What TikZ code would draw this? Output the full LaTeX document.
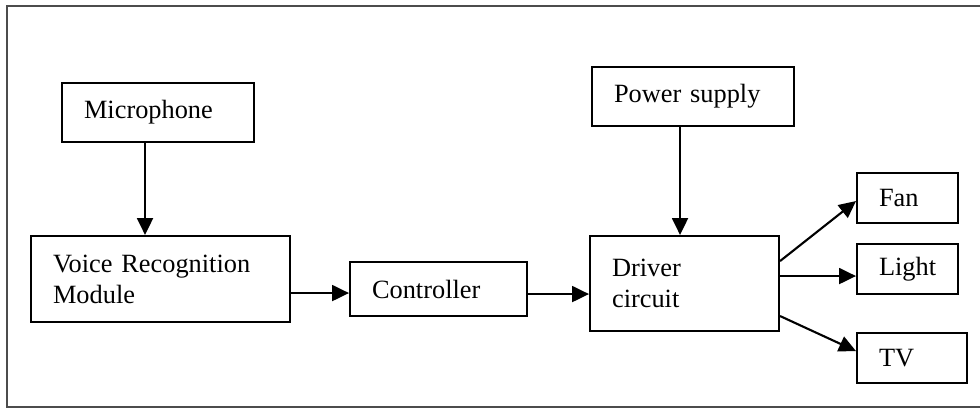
\documentclass[tikz,border=0pt]{standalone}
\usepackage{fontspec}
\setmainfont{Liberation Serif}
\usetikzlibrary{arrows.meta}
\begin{document}
\begin{tikzpicture}[x=0.02cm,y=-0.02cm,>={Triangle[length=0.34cm,width=0.32cm]},line width=1.2pt]
\tikzstyle{blk}=[draw,anchor=north west,align=left,inner xsep=0.44cm,inner ysep=0pt,font=\fontsize{15}{17.6}\selectfont]
\tikzstyle{smallblk}=[blk,minimum height=1cm]
\useasboundingbox (0,0) rectangle (980,409);
\draw[line width=0.6pt,black!70] (7,6) rectangle (995,407);

\node[blk,text width=2.96cm,minimum height=1.18cm] (mic) at (61,82) {Microphone};
\node[blk,text width=4.3cm,minimum height=1.72cm] (vrm) at (30,235) {Voice Recognition\\Module};
\draw[->] ([xshift=-0.26cm]mic.south) -- ([xshift=-0.26cm]mic.south |- vrm.north);
\node[blk,text width=2.66cm,minimum height=1.08cm] (ctrl) at (349,261) {Controller};
\draw[->] ([yshift=-0.08cm]ctrl.west -| vrm.east) -- ([yshift=-0.08cm]ctrl.west);
\node[blk,text width=2.9cm,minimum height=1.9cm] (drv) at (589,235) {Driver\\circuit};
\draw[->] ([yshift=-0.1cm]ctrl.east) -- ([yshift=-0.1cm]ctrl.east -| drv.west);
\node[blk,text width=3.16cm,minimum height=1.18cm] (pwr) at (591,66) {Power supply};
\draw[->] ([xshift=-0.26cm]pwr.south) -- ([xshift=-0.26cm]pwr.south |- drv.north);

% loads
\node[smallblk,text width=1.14cm] (fan) at (856,172) {Fan};
\node[smallblk,text width=1.14cm] (light) at (856,243) {Light};
\node[smallblk,text width=1.32cm] (tv) at (856,332) {TV};
\draw[->] ([yshift=0.45cm]drv.east) -- ([yshift=-0.06cm]fan.west);
\draw[->] ([yshift=0.15cm]drv.east) -- ([yshift=0.15cm]drv.east -| light.west);
\draw[->] ([yshift=-0.65cm]drv.east) -- ([yshift=0.14cm]tv.west);
\end{tikzpicture}
\end{document}
